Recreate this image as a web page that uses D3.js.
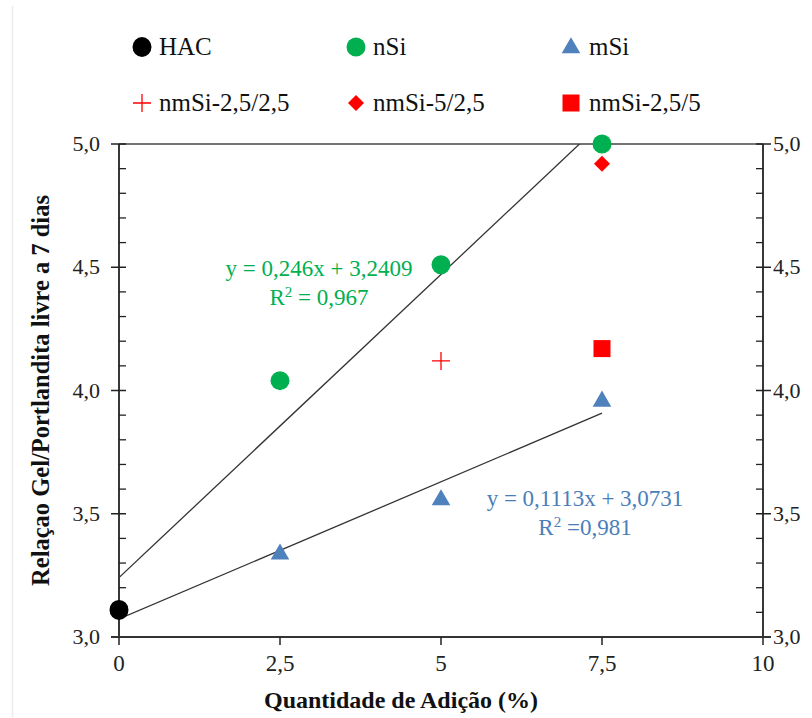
<!DOCTYPE html>
<html>
<head>
<meta charset="utf-8">
<script src="https://cdn.jsdelivr.net/npm/d3@7"></script>
<style>
  html, body { margin: 0; padding: 0; background: #fff; }
  svg text { font-family: 'Liberation Serif', 'Times New Roman', 'DejaVu Serif', serif; }
</style>
</head>
<body>
<svg id="chart" width="812" height="718"></svg>
<script>
// Gel/Portlandite ratio at 7 days versus addition amount
const xTicks = [0, 2.5, 5, 7.5, 10];
const xTickLabels = ["0", "2,5", "5", "7,5", "10"];
const yTicks = [3.0, 3.5, 4.0, 4.5, 5.0];
const yTickLabels = ["3,0", "3,5", "4,0", "4,5", "5,0"];

const hacX = [0];
const hacY = [3.11];
const nSiX = [2.5, 5, 7.5];
const nSiY = [4.04, 4.51, 5.00];
const mSiX = [2.5, 5, 7.5];
const mSiY = [3.34, 3.56, 3.96];
const nm2525X = [5];
const nm2525Y = [4.12];
const nm525X = [7.5];
const nm525Y = [4.92];
const nm255X = [7.5];
const nm255Y = [4.17];

// linear trend lines (slope, intercept, R²) and their x range
const trendNames = ["nSi", "mSi"];
const trendSlope = [0.246, 0.1113];
const trendIntercept = [3.2409, 3.0731];
const trendR2 = ["0,967", "0,981"];
const trendEq = ["y = 0,246x + 3,2409", "y = 0,1113x + 3,0731"];
const trendXRange = [0, 7.5];

const legendNames = ["HAC", "nSi", "mSi", "nmSi-2,5/2,5", "nmSi-5/2,5", "nmSi-2,5/5"];

const GREEN = "#00b050";
const BLUE = "#4f81bd";
const BLUE_TXT = "#4a7ebb";
const RED = "#ff0000";
const FONT = "'Liberation Serif', 'Times New Roman', 'DejaVu Serif', serif";

const svg = d3.select("#chart").attr("font-family", FONT);

// faint page edge line on the left
svg.append("line")
  .attr("x1", 12.5).attr("x2", 12.5).attr("y1", 6).attr("y2", 718)
  .attr("stroke", "#ececec").attr("stroke-width", 1.5);

const x = d3.scaleLinear().domain([0, 10]).range([119, 763]);
const y = d3.scaleLinear().domain([3, 5]).range([637, 144]);

const toPts = (xs, ys) => xs.map((v, i) => ({ x: v, y: ys[i] }));

// clip region for trend lines
svg.append("defs").append("clipPath").attr("id", "plotclip")
  .append("rect")
  .attr("x", x(0)).attr("y", y(5))
  .attr("width", x(10) - x(0)).attr("height", y(3) - y(5));

// frame top
svg.append("line")
  .attr("x1", x(0)).attr("x2", x(10)).attr("y1", y(5)).attr("y2", y(5))
  .attr("stroke", "#444").attr("stroke-width", 1.5);

// minor y values (every 0.1)
const minorY = d3.range(31, 50).map(v => v / 10).filter(v => Math.abs(v * 2 - Math.round(v * 2)) > 1e-6);

// left axis
const leftAxis = svg.append("g").attr("class", "axis-left");
leftAxis.append("line")
  .attr("x1", x(0)).attr("x2", x(0)).attr("y1", y(5)).attr("y2", y(3))
  .attr("stroke", "#222").attr("stroke-width", 1.8);
leftAxis.selectAll("line.major").data(yTicks).join("line").attr("class", "major")
  .attr("x1", x(0) - 8).attr("x2", x(0) + 7)
  .attr("y1", d => y(d)).attr("y2", d => y(d))
  .attr("stroke", "#222").attr("stroke-width", 1.5);
leftAxis.selectAll("line.minor").data(minorY).join("line").attr("class", "minor")
  .attr("x1", x(0)).attr("x2", x(0) + 7)
  .attr("y1", d => y(d)).attr("y2", d => y(d))
  .attr("stroke", "#222").attr("stroke-width", 1.3);
leftAxis.selectAll("text").data(yTicks).join("text")
  .attr("font-family", FONT)
  .attr("x", x(0) - 19).attr("y", d => y(d) + 7)
  .attr("text-anchor", "end").attr("font-size", 22).attr("fill", "#222")
  .text((d, i) => yTickLabels[i]);

// right axis
const rightAxis = svg.append("g").attr("class", "axis-right");
rightAxis.append("line")
  .attr("x1", x(10)).attr("x2", x(10)).attr("y1", y(5)).attr("y2", y(3))
  .attr("stroke", "#222").attr("stroke-width", 1.8);
rightAxis.selectAll("line.major").data(yTicks).join("line").attr("class", "major")
  .attr("x1", x(10) - 7).attr("x2", x(10) + 8)
  .attr("y1", d => y(d)).attr("y2", d => y(d))
  .attr("stroke", "#222").attr("stroke-width", 1.5);
rightAxis.selectAll("line.minor").data(minorY).join("line").attr("class", "minor")
  .attr("x1", x(10) - 7).attr("x2", x(10))
  .attr("y1", d => y(d)).attr("y2", d => y(d))
  .attr("stroke", "#222").attr("stroke-width", 1.3);
rightAxis.selectAll("text").data(yTicks).join("text")
  .attr("font-family", FONT)
  .attr("x", x(10) + 10).attr("y", d => y(d) + 7)
  .attr("text-anchor", "start").attr("font-size", 22).attr("fill", "#222")
  .text((d, i) => yTickLabels[i]);

// bottom axis
const bottomAxis = svg.append("g").attr("class", "axis-bottom");
bottomAxis.append("line")
  .attr("x1", x(0) - 8).attr("x2", x(10) + 8).attr("y1", y(3)).attr("y2", y(3))
  .attr("stroke", "#333").attr("stroke-width", 2.2);
bottomAxis.selectAll("line.tick").data(xTicks).join("line").attr("class", "tick")
  .attr("x1", d => x(d)).attr("x2", d => x(d))
  .attr("y1", y(3)).attr("y2", y(3) + 8)
  .attr("stroke", "#222").attr("stroke-width", 1.5);
bottomAxis.selectAll("text").data(xTicks).join("text")
  .attr("font-family", FONT)
  .attr("x", d => x(d)).attr("y", y(3) + 34)
  .attr("text-anchor", "middle").attr("font-size", 23).attr("fill", "#222")
  .text((d, i) => xTickLabels[i]);

// axis titles
svg.append("text")
  .attr("font-family", FONT)
  .attr("x", 401).attr("y", 708)
  .attr("text-anchor", "middle").attr("font-size", 24).attr("font-weight", "bold").attr("fill", "#111")
  .text("Quantidade de Adição (%)");
svg.append("text")
  .attr("font-family", FONT)
  .attr("transform", `translate(49, ${(y(3) + y(5)) / 2}) rotate(-90)`)
  .attr("text-anchor", "middle").attr("font-size", 24.5).attr("font-weight", "bold").attr("fill", "#111")
  .text("Relaçao Gel/Portlandita livre a 7 dias");

// trend lines
const trendLine = d3.line().x(d => x(d.x)).y(d => y(d.y));
svg.append("g").attr("clip-path", "url(#plotclip)")
  .selectAll("path").data(trendSlope).join("path")
  .attr("d", (m, i) => trendLine(trendXRange.map(v => ({ x: v, y: trendIntercept[i] + m * v }))))
  .attr("fill", "none").attr("stroke", "#333").attr("stroke-width", 1.3);

// trend equations
const eqG = svg.append("g").attr("text-anchor", "middle").attr("font-size", 23).attr("font-family", FONT);
const eqPos = [{ cx: 319, y1: 276, y2: 305, color: GREEN }, { cx: 585, y1: 506, y2: 535, color: BLUE_TXT }];
trendEq.forEach((eq, i) => {
  const p = eqPos[i];
  eqG.append("text").attr("x", p.cx).attr("y", p.y1).attr("fill", p.color).text(eq);
  const r = eqG.append("text").attr("x", p.cx).attr("y", p.y2).attr("fill", p.color);
  r.append("tspan").text("R");
  r.append("tspan").attr("dy", -8).attr("font-size", 15).text("2");
  r.append("tspan").attr("dy", 8).text(i === 0 ? " = " + trendR2[i] : " =" + trendR2[i]);
});

// marker drawing helpers
const sym = (type, size) => d3.symbol().type(type).size(size)();
function drawMarker(g, kind, cx, cy) {
  if (kind === "HAC") {
    g.append("ellipse").attr("cx", cx).attr("cy", cy).attr("rx", 9.5).attr("ry", 10).attr("fill", "#000");
  } else if (kind === "nSi") {
    g.append("circle").attr("cx", cx).attr("cy", cy).attr("r", 9.5).attr("fill", GREEN);
  } else if (kind === "mSi") {
    g.append("path").attr("d", sym(d3.symbolTriangle, 150))
      .attr("transform", `translate(${cx},${cy + 1})`).attr("fill", BLUE);
  } else if (kind === "nmSi-2,5/2,5") {
    g.append("path").attr("d", `M${cx - 9},${cy}H${cx + 9}M${cx},${cy - 9}V${cy + 9}`)
      .attr("stroke", RED).attr("stroke-width", 1.3).attr("fill", "none");
  } else if (kind === "nmSi-5/2,5") {
    g.append("path").attr("d", `M${cx},${cy - 8}L${cx + 8},${cy}L${cx},${cy + 8}L${cx - 8},${cy}Z`)
      .attr("fill", RED);
  } else if (kind === "nmSi-2,5/5") {
    g.append("rect").attr("x", cx - 8.5).attr("y", cy - 8.5).attr("width", 17).attr("height", 17).attr("fill", RED);
  }
}

// data points
const series = [
  { name: "HAC", pts: toPts(hacX, hacY) },
  { name: "nSi", pts: toPts(nSiX, nSiY) },
  { name: "mSi", pts: toPts(mSiX, mSiY) },
  { name: "nmSi-2,5/2,5", pts: toPts(nm2525X, nm2525Y) },
  { name: "nmSi-5/2,5", pts: toPts(nm525X, nm525Y) },
  { name: "nmSi-2,5/5", pts: toPts(nm255X, nm255Y) }
];
const marks = svg.append("g").attr("class", "marks");
series.forEach(s => s.pts.forEach(p => drawMarker(marks, s.name, x(p.x), y(p.y))));

// legend: two rows of three
const legend = svg.append("g").attr("class", "legend");
const legCols = [142, 356, 571];
const legTextX = [159, 373, 589];
const legRows = [47, 103];
legendNames.forEach((name, i) => {
  const cx = legCols[i % 3], cy = legRows[Math.floor(i / 3)];
  drawMarker(legend, name, cx, cy);
  legend.append("text").attr("font-family", FONT)
    .attr("x", legTextX[i % 3]).attr("y", cy + 8)
    .attr("font-size", 25).attr("fill", "#111").text(name);
});
</script>
</body>
</html>
